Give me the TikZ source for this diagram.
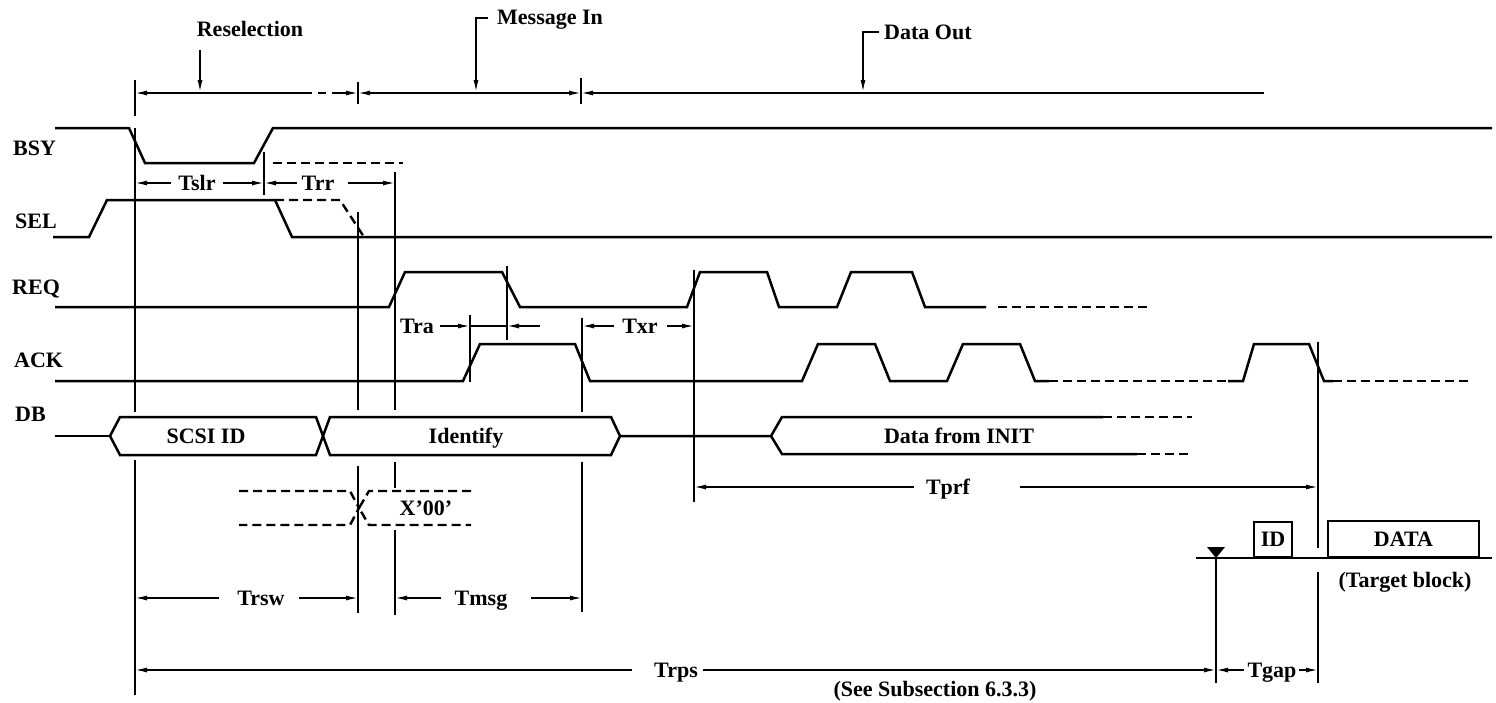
\documentclass[tikz,border=0pt]{standalone}
\usepackage{fontspec}
\setmainfont{Liberation Serif}
\usetikzlibrary{arrows.meta}
\begin{document}
\begin{tikzpicture}[x=1pt,y=-1pt,
  >={Latex[length=12pt,width=5pt]},
  sig/.style={line width=2.5pt},
  dsig/.style={line width=2.4pt, dash pattern=on 9pt off 5pt},
  ref/.style={line width=1.9pt},
  dimline/.style={line width=1.5pt},
  dim/.style={line width=1.5pt, ->},
  lbl/.style={font=\fontsize{22}{25}\selectfont\bfseries, inner sep=0pt, text height=14.6pt, text depth=0pt}]
\useasboundingbox (0,0) rectangle (1496,702);
% reference x positions
\coordinate (xA) at (135,0);
\coordinate (xB) at (264,0);
\coordinate (xC) at (358,0);
\coordinate (xD) at (395,0);
\coordinate (xE) at (470,0);
\coordinate (xF) at (507,0);
\coordinate (xG) at (582,0);
\coordinate (xH) at (694,0);
\coordinate (xI) at (1216,0);
\coordinate (xJ) at (1318,0);

% signal names
\node[lbl, anchor=west] (nbsy) at (13,148) {BSY};
\node[lbl, anchor=west] (nsel) at (15,221) {SEL};
\node[lbl, anchor=west] (nreq) at (12,287) {REQ};
\node[lbl, anchor=west] (nack) at (14,360) {ACK};
\node[lbl, anchor=west] (ndb) at (15,414) {DB};

% phase labels
\node[lbl] (resel) at (250,29) {Reselection};
\node[lbl, anchor=west] (msgin) at (497,17) {Message In};
\node[lbl, anchor=west] (dout) at (884,32) {Data Out};
\coordinate (rsA) at (200,50);
\coordinate (rsB) at (200,92);
\draw[dim] (rsA) -- (rsB);
\coordinate (miA) at (488,18);
\coordinate (miB) at (476,92);
\draw[dim] (miA) -| (miB);
\coordinate (doA) at (879,32);
\coordinate (doB) at (863,92);
\draw[dim] (doA) -| (doB);

% phase time line
\coordinate (tl0) at (135,93);
\coordinate (tl1) at (304,93);
\coordinate (tl2) at (340,93);
\coordinate (tl3) at (358,93);
\coordinate (tl4) at (581,93);
\coordinate (tl5) at (1264,93);
\draw[dimline, <-] (tl0) -- (tl1);
\draw[dimline, dash pattern=on 8pt off 6pt] (tl1) -- (tl2);
\draw[dim] (tl2) -- (tl3);
\draw[dimline, <->] (tl3) -- (tl4);
\draw[dimline, <-] (tl4) -- (tl5);
\draw[ref] (135,80) -- (135,116);
\draw[ref] (358,82) -- (358,104);
\draw[ref] (581,78) -- (581,104);

% BSY
\draw[sig] (55,128) -- (129,128) -- (145,163) -- (254,163) -- (273,128) -- (1492,128);
\draw[dsig] (273,163) -- (403,163);
% SEL
\draw[sig] (53,237) -- (89,237) -- (107,200) -- (275,200) -- (292,237) -- (1492,237);
\draw[dsig] (275,200) -- (340,200) -- (364,237);
% REQ
\draw[sig] (55,307) -- (389,307) -- (405,272) -- (502,272) -- (520,307) -- (687,307)
  -- (700,272) -- (767,272) -- (779,307) -- (837,307) -- (851,272) -- (912,272)
  -- (925,307) -- (986,307);
\draw[dsig] (998,307) -- (1148,307);
% ACK
\draw[sig] (55,381) -- (463,381) -- (480,344) -- (575,344) -- (590,381) -- (802,381)
  -- (818,344) -- (875,344) -- (890,381) -- (947,381) -- (963,344) -- (1020,344)
  -- (1035,381) -- (1049,381);
\draw[dsig] (1049,381) -- (1228,381);
\draw[sig] (1228,381) -- (1243,381) -- (1254,344) -- (1309,344) -- (1324,381) -- (1333,381);
\draw[dsig] (1333,381) -- (1468,381);
% DB
\draw[sig] (55,436) -- (110,436);
\draw[sig] (110,436) -- (120,417) -- (316,417) -- (323,436) -- (316,455) -- (120,455) -- cycle;
\draw[sig] (323,436) -- (330,417) -- (611,417) -- (620,436) -- (611,455) -- (330,455) -- cycle;
\draw[sig] (620,436) -- (771,436) -- (782,417) -- (1103,417);
\draw[sig] (771,436) -- (782,454) -- (1137,454);
\draw[dsig] (1103,417) -- (1192,417);
\draw[dsig] (1137,454) -- (1192,454);
\node[lbl] (scsi) at (206,436) {SCSI ID};
\node[lbl] (ident) at (466,436) {Identify};
\node[lbl] (dinit) at (959,436) {Data from INIT};
% X'00'
\draw[dsig] (239,491) -- (350,491) -- (359,508) -- (350,525) -- (239,525);
\draw[dsig] (471,491) -- (369,491) -- (359,508) -- (369,525) -- (471,525);
\node[lbl] (x00) at (426,508) {X’00’};

% reference verticals
\draw[ref] (135,128) -- (135,412);
\draw[ref] (135,460) -- (135,695);
\draw[ref] (264,152) -- (264,195);
\draw[ref] (358,212) -- (358,410);
\draw[ref] (358,466) -- (358,613);
\draw[ref] (395,172) -- (395,410);
\draw[ref] (395,462) -- (395,488);
\draw[ref] (395,530) -- (395,615);
\draw[ref] (470,315) -- (470,382);
\draw[ref] (507,266) -- (507,340);
\draw[ref] (582,318) -- (582,412);
\draw[ref] (582,462) -- (582,612);
\draw[ref] (694,270) -- (694,502);
\draw[ref] (1318,342) -- (1318,548);
\draw[ref] (1318,572) -- (1318,683);
\draw[ref] (1216,558) -- (1216,683);

% Tslr / Trr
\node[lbl] (tslr) at (197,183) {Tslr};
\node[lbl] (trr) at (318,183) {Trr};
\draw[dim, shorten <=7pt] (tslr.west) -- (tslr.west -| xA);
\draw[dim, shorten <=7pt] (tslr.east) -- (tslr.east -| xB);
\draw[dim, shorten <=5pt] (trr.west) -- (trr.west -| xB);
\draw[dim, shorten <=14pt] (trr.east) -- (trr.east -| xD);
% Tra
\node[lbl] (tra) at (417,326) {Tra};
\coordinate (traR) at (540,326);
\draw[dim, shorten <=6pt] (tra.east) -- (tra.east -| xE);
\draw[dimline] (tra.east -| xE) -- (tra.east -| xF);
\draw[dim] (traR) -- (traR -| xF);
% Txr
\node[lbl] (txr) at (640,326) {Txr};
\draw[dim, shorten <=8pt] (txr.west) -- (txr.west -| xG);
\draw[dim, shorten <=9pt] (txr.east) -- (txr.east -| xH);
% Trsw / Tmsg
\node[lbl] (trsw) at (261,598) {Trsw};
\node[lbl] (tmsg) at (481,598) {Tmsg};
\draw[dim, shorten <=18pt] (trsw.west) -- (trsw.west -| xA);
\draw[dim, shorten <=14pt] (trsw.east) -- (trsw.east -| xC);
\draw[dim, shorten <=14pt] (tmsg.west) -- (tmsg.west -| xD);
\draw[dim, shorten <=24pt] (tmsg.east) -- (tmsg.east -| xG);
% Tprf
\node[lbl] (tprf) at (948,487) {Tprf};
\draw[dim, shorten <=12pt] (tprf.west) -- (tprf.west -| xH);
\draw[dim, shorten <=50pt] (tprf.east) -- (tprf.east -| xJ);
% disk track
\coordinate (trk0) at (1196,558);
\coordinate (trk1) at (1492,558);
\draw[sig] (trk0) -- (trk1);
\node[draw, line width=2pt, minimum width=38pt, minimum height=35pt, inner sep=0pt, anchor=south west,
  font=\fontsize{22}{25}\selectfont\bfseries] (idbox) at (1253,558) {ID};
\node[draw, line width=2pt, minimum width=151pt, minimum height=36pt, inner sep=0pt, anchor=south west,
  font=\fontsize{22}{25}\selectfont\bfseries] (databox) at (1327,558) {DATA};
\node[lbl] (tblk) at (1405,580) {(Target block)};
\fill (1207,547) -- (1225,547) -- (1216,558) -- cycle;
% Trps / Tgap
\node[lbl] (trps) at (676,670) {Trps};
\node[lbl] (tgap) at (1272,670) {Tgap};
\draw[dim, shorten <=22pt] (trps.west) -- (trps.west -| xA);
\draw[dim, shorten <=5pt] (trps.east) -- (trps.east -| xI);
\draw[dim, shorten <=3pt] (tgap.west) -- (tgap.west -| xI);
\draw[dim, shorten <=2pt] (tgap.east) -- (tgap.east -| xJ);
\node[lbl] (see) at (935,689) {(See Subsection 6.3.3)};
\end{tikzpicture}
\end{document}
